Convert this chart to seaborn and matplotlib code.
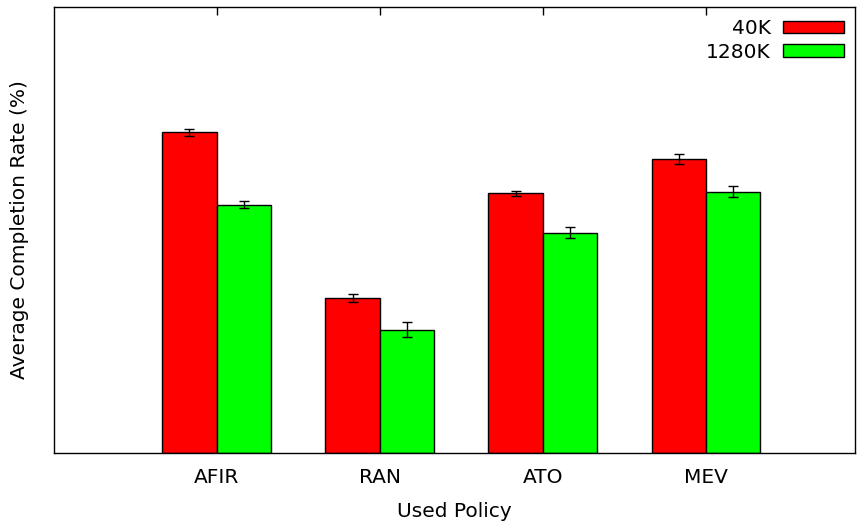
import matplotlib
matplotlib.use("Agg")
import matplotlib.pyplot as plt
import seaborn as sns
import pandas as pd

policies = ["AFIR", "RAN", "ATO", "MEV"]
series = ["40K", "1280K"]
values_40k = [71.9, 34.8, 58.2, 65.9]
values_1280k = [55.7, 27.7, 49.4, 58.6]
err_40k = [0.78, 0.94, 0.63, 1.23]
err_1280k = [0.74, 1.6, 1.23, 1.23]
colors = ["#ff0000", "#00ff00"]

sns.set_style("white")
plt.rcParams["font.family"] = ["DejaVu Sans"]
plt.rcParams["text.color"] = "black"
plt.rcParams["axes.labelcolor"] = "black"
plt.rcParams["xtick.color"] = "black"

df = pd.DataFrame({
    "Policy": policies * 2,
    "Size": [series[0]] * 4 + [series[1]] * 4,
    "Rate": values_40k + values_1280k,
})

fig = plt.figure(figsize=(8.65, 5.25), dpi=100)
ax = fig.add_axes([0.063, 0.1366, 0.9254, 0.8506])

sns.barplot(data=df, x="Policy", y="Rate", hue="Size", order=policies,
            hue_order=series, palette=colors, width=0.667, errorbar=None,
            edgecolor="black", linewidth=1.0, saturation=1, ax=ax)

errs = [err_40k, err_1280k]
vals = [values_40k, values_1280k]
for cont, e, v in zip(ax.containers, errs, vals):
    xs = [p.get_x() + p.get_width() / 2 for p in cont.patches]
    ax.errorbar(xs, v, yerr=e, fmt="none", ecolor="black", elinewidth=1.0,
                capsize=3.3, capthick=1.0, zorder=5)

fs = 14.5
ax.set_xlim(-0.994, 3.914)
ax.set_ylim(0, 100)
ax.set_yticks([])
ax.set_xlabel("Used Policy", fontsize=fs, labelpad=11)
ax.set_ylabel("Average Completion Rate (%)", fontsize=fs, labelpad=18)
ax.tick_params(axis="x", which="both", direction="in", top=True, bottom=False,
               length=6, width=1, labelsize=fs, pad=10.5, colors="black")
for s in ax.spines.values():
    s.set_color("black")
    s.set_linewidth(1.0)

handles, labels = ax.get_legend_handles_labels()
ax.legend(handles, labels, loc="upper right", markerfirst=False, frameon=False,
          fontsize=fs, handlelength=3.03, handleheight=0.57, handletextpad=0.6,
          labelspacing=0.22, borderaxespad=0.0, borderpad=0.0,
          bbox_to_anchor=(0.986, 0.972), alignment="right")

fig.savefig("out.png", dpi=100)
